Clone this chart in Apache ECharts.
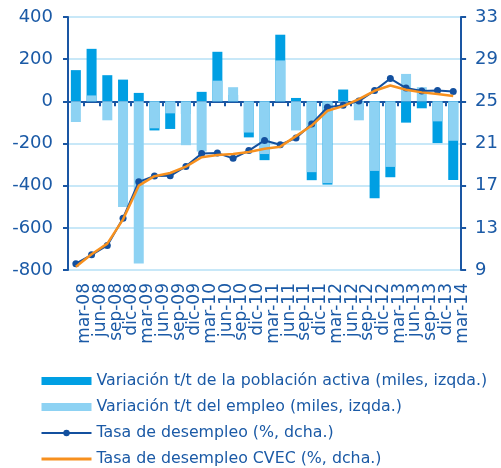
<!DOCTYPE html>
<html>
<head>
<meta charset="utf-8">
<script src="https://cdn.jsdelivr.net/npm/echarts@6/dist/echarts.min.js"></script>
<style>html,body{margin:0;padding:0;background:#fff;}#c{width:501px;height:468px;}</style>
</head>
<body>
<div id="c"></div>
<script>
var categories = ['mar-08','jun-08','sep-08','dic-08','mar-09','jun-09','sep-09','dic-09','mar-10','jun-10','sep-10','dic-10','mar-11','jun-11','sep-11','dic-11','mar-12','jun-12','sep-12','dic-12','mar-13','jun-13','sep-13','dic-13','mar-14'];
var poblacionActiva = [148, 249, 124, 103, 40, -138, -131, -60, 45, 235, 30, -171, -279, 316, 16, -374, -395, 56, -40, -460, -360, -101, -33, -198, -373];
var empleo = [-98, 28, -90, -501, -769, -128, -57, -208, -238, 98, 67, -148, -250, 194, -138, -336, -388, -5, -90, -330, -311, 130, 67, -95, -187];
var tasaDesempleo = [9.60, 10.44, 11.33, 13.91, 17.36, 17.92, 17.93, 18.83, 20.05, 20.09, 19.59, 20.33, 21.29, 20.89, 21.52, 22.85, 24.44, 24.63, 25.02, 26.02, 27.16, 26.26, 25.98, 26.03, 25.93];
var tasaCVEC = [9.3, 10.5, 11.5, 13.8, 17.0, 17.9, 18.2, 18.8, 19.7, 19.9, 20.0, 20.2, 20.5, 20.7, 21.7, 22.7, 24.1, 24.55, 25.2, 26.0, 26.5, 26.1, 25.85, 25.7, 25.5];
var leftTicks = {min: -800, max: 400, interval: 200};
var rightTicks = {min: 9, max: 33, interval: 4};

var TXT = '#1b5aa6', AX = '#1a56a3', GRID = '#c8e8f8';
var FONT = 'DejaVu Sans';
var chart = echarts.init(document.getElementById('c'), null, {renderer: 'canvas'});
chart.setOption({
  animation: false,
  backgroundColor: '#fff',
  textStyle: {fontFamily: FONT},
  grid: [
    {left: 68, right: 31, top: 17, bottom: 198},
    {left: 77, width: 393, top: 17, bottom: 198}
  ],
  legend: {
    orient: 'vertical', left: 40, top: 373, padding: 0, itemWidth: 50, itemHeight: 8, itemGap: 10,
    textStyle: {color: TXT, fontSize: 15.8, fontFamily: FONT},
    data: [
      {name: 'Variación t/t de la población activa (miles, izqda.)', icon: 'rect'},
      {name: 'Variación t/t del empleo (miles, izqda.)', icon: 'rect'},
      {name: 'Tasa de desempleo (%, dcha.)', itemStyle: {borderWidth: 0}},
      {name: 'Tasa de desempleo CVEC (%, dcha.)', itemStyle: {opacity: 0}, lineStyle: {width: 3, opacity: 1}}
    ]
  },
  xAxis: [
    {type: 'category', gridIndex: 1, data: categories, boundaryGap: true,
     axisLine: {show: false}, axisTick: {show: false}, splitLine: {show: false},
     axisLabel: {rotate: 90, margin: 13, fontSize: 17, color: TXT, fontFamily: FONT, interval: 0}},
    {type: 'category', gridIndex: 0, data: categories, boundaryGap: true, position: 'bottom',
     axisLine: {show: true, onZero: true, lineStyle: {color: AX, width: 2}},
     axisTick: {show: true, inside: false, length: 5, interval: 0, lineStyle: {color: AX, width: 2}},
     axisLabel: {show: false}, splitLine: {show: false}}
  ],
  yAxis: [
    {type: 'value', gridIndex: 0, position: 'left', min: leftTicks.min, max: leftTicks.max, interval: leftTicks.interval,
     axisLine: {show: true, lineStyle: {color: AX, width: 2}},
     axisTick: {show: true, length: 5, lineStyle: {color: AX, width: 2}},
     axisLabel: {color: TXT, fontSize: 18, margin: 15, fontFamily: FONT},
     splitLine: {show: true, lineStyle: {color: GRID, width: 2}}},
    {type: 'value', gridIndex: 0, position: 'right', min: rightTicks.min, max: rightTicks.max, interval: rightTicks.interval,
     axisLine: {show: true, lineStyle: {color: AX, width: 2}},
     axisTick: {show: true, length: 5, lineStyle: {color: AX, width: 2}},
     axisLabel: {color: TXT, fontSize: 18, margin: 14, fontFamily: FONT},
     splitLine: {show: false}},
    {type: 'value', gridIndex: 1, show: false, min: 0, max: 1}
  ],
  series: [
    {name: 'Variación t/t de la población activa (miles, izqda.)', type: 'bar', xAxisIndex: 1, yAxisIndex: 0,
     data: poblacionActiva, barWidth: 10, barGap: '-100%', itemStyle: {color: '#009fe3'}},
    {name: 'Variación t/t del empleo (miles, izqda.)', type: 'bar', xAxisIndex: 1, yAxisIndex: 0,
     data: empleo, barWidth: 10, barGap: '-100%', itemStyle: {color: '#8dd2f3'}},
    {name: 'Tasa de desempleo (%, dcha.)', type: 'line', xAxisIndex: 1, yAxisIndex: 1,
     data: tasaDesempleo, symbol: 'circle', symbolSize: 7, showSymbol: true,
     lineStyle: {color: '#13509f', width: 2}, itemStyle: {color: '#13509f'}, z: 3},
    {name: 'Tasa de desempleo CVEC (%, dcha.)', type: 'line', xAxisIndex: 1, yAxisIndex: 1,
     data: tasaCVEC, symbol: 'none', showSymbol: false,
     lineStyle: {color: '#f7901e', width: 2.5}, itemStyle: {color: '#f7901e'}, z: 4}
  ]
});
</script>
</body>
</html>
